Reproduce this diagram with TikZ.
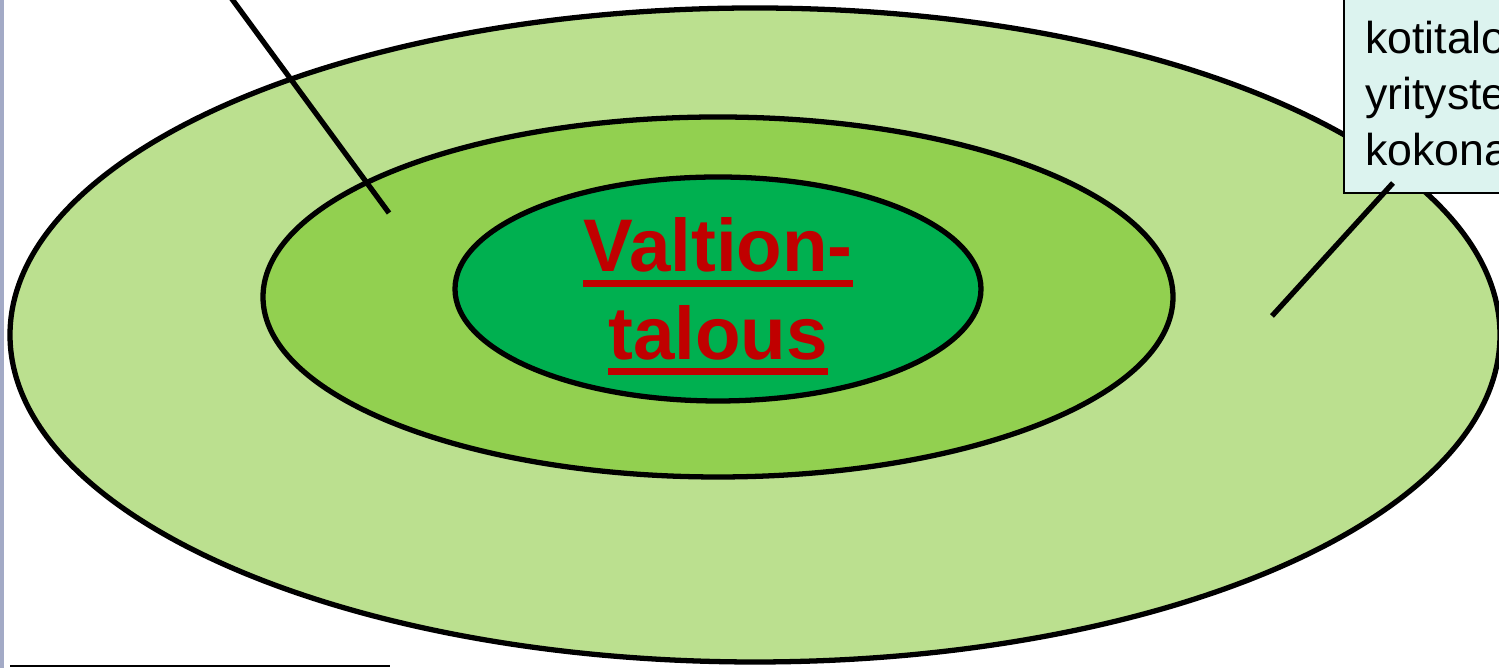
\documentclass[tikz,border=0pt]{standalone}
\usepackage{fontspec}
\setmainfont{Liberation Sans}
\definecolor{ringouter}{HTML}{BBE08F}
\definecolor{ringmid}{HTML}{92D050}
\definecolor{ringinner}{HTML}{00B050}
\definecolor{notefill}{HTML}{DCF3EF}
\definecolor{titlered}{HTML}{C00000}
\definecolor{slidebar}{HTML}{A3AAC6}
\newcommand{\redunder}[1]{\setbox0\hbox{#1}\rlap{\rule[-4.3pt]{\wd0}{1.9pt}}\box0}

\begin{document}
\begin{tikzpicture}[x=0.01cm, y=-0.01cm,
  ring/.style={draw=black, line width=1.5pt},
  pointer/.style={draw=black, line width=1.5pt},
  notebox/.style={draw=black, line width=0.7pt, fill=notefill, align=left, text width=3cm,
    inner xsep=0.21cm, inner ysep=0.27cm, font=\fontsize{12.7pt}{15.9pt}\selectfont}]
\useasboundingbox (0,0) rectangle (1499,668);
\clip (0,0) rectangle (1499,668);

% Slide edge
\fill[slidebar] (0,0) rectangle (4,668);

% Rings
\path[ring, fill=ringouter] (755,335) ellipse [x radius=745, y radius=327];
\path[ring, fill=ringmid] (718,297) ellipse [x radius=455, y radius=180];
\path[ring, fill=ringinner] (718,289) ellipse [x radius=263, y radius=112];

% State economy
\node[text=titlered, align=center, font=\bfseries\fontsize{21.2pt}{25pt}\selectfont] (state) at (718,296)
  {\redunder{Valtion-}\\\redunder{talous}};

% Note box
\node[notebox, anchor=south west] (kbox) at (1343,194) {kotitalo\\yrityste\\kokona};

% Pointers
\coordinate (farend) at (218,-20);
\coordinate (midpin) at (389,213);
\coordinate (outerpin) at (1272,316);
\draw[pointer] (farend) -- (midpin);
\draw[pointer] ([shift={(50,-11)}]kbox.south west) -- (outerpin);

% Footnote rule
\draw[line width=0.45pt] (10,666) -- (390,666);
\end{tikzpicture}
\end{document}
